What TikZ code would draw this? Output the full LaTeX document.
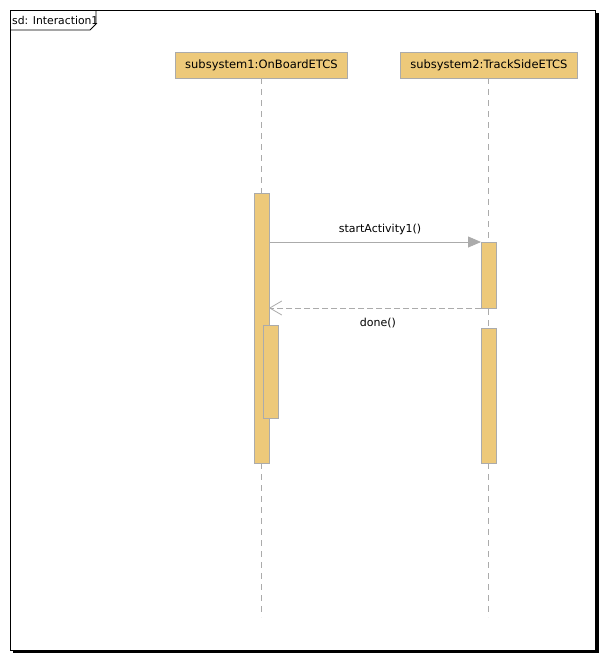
\documentclass[tikz,border=0pt]{standalone}
\usepackage{fontspec}
\setmainfont{DejaVu Sans}
\usetikzlibrary{arrows.meta}
\definecolor{actfill}{HTML}{EDC97A}
\definecolor{actline}{HTML}{ABABAB}
\tikzset{
  head/.style={draw=actline, fill=actfill, line width=0.8pt},
  act/.style={draw=actline, fill=actfill, line width=0.8pt},
  life/.style={draw=actline, line width=0.8pt, dash pattern=on 6pt off 5pt},
  lbl/.style={font=\fontsize{11.5}{12}\selectfont, inner sep=0pt},
  mlbl/.style={font=\fontsize{11}{12}\selectfont, inner sep=0pt},
  tlbl/.style={font=\fontsize{10.8}{11}\selectfont, inner sep=0pt},
  callmsg/.style={draw=actline, line width=0.8pt, -{Triangle[length=13pt,width=11pt]}},
  retmsg/.style={draw=actline, line width=0.8pt, dash pattern=on 6pt off 3pt, -{Straight Barb[length=12pt,width=14pt,line width=0.8pt]}},
}
\begin{document}
\begin{tikzpicture}[x=1pt,y=-1pt]
\useasboundingbox (0,0) rectangle (606,661);
% frame
\fill[black] (13,650) rectangle (599,653);
\fill[black] (596,13) rectangle (599,653);
\draw[black, line width=0.8pt, fill=white] (10.5,10.5) rectangle (595.5,650);
\draw[black, line width=0.8pt] (10.5,30) -- (90,30) -- (96,24) -- (96,10.5);
\node[tlbl, anchor=west] (title) at (12,20) {sd: Interaction1};
% lifelines
\draw[life] (261,78) -- (261,617);
\draw[life] (488,78) -- (488,617);
\node[head, minimum width=172pt, minimum height=26pt, inner sep=0pt, anchor=north west, lbl] (l1) at (175,52) {subsystem1:OnBoardETCS};
\node[head, minimum width=177pt, minimum height=26pt, inner sep=0pt, anchor=north west, lbl] (l2) at (400,52) {subsystem2:TrackSideETCS};
% activations
\draw[act] (254,193) rectangle (269,463);
\draw[act] (263,325) rectangle (278,418);
\draw[act] (481,242) rectangle (496,308);
\draw[act] (481,328) rectangle (496,463);
\coordinate (a1) at (269,242);
\coordinate (b1) at (481,242);
\coordinate (a2) at (269,308);
\coordinate (b2) at (481,308);
\draw[callmsg] (a1) -- (b1);
\draw[retmsg] (b2) -- (a2);
\node[mlbl] (m1) at (380,229) {startActivity1()};
\node[mlbl] (m2) at (378,323) {done()};
\end{tikzpicture}
\end{document}
